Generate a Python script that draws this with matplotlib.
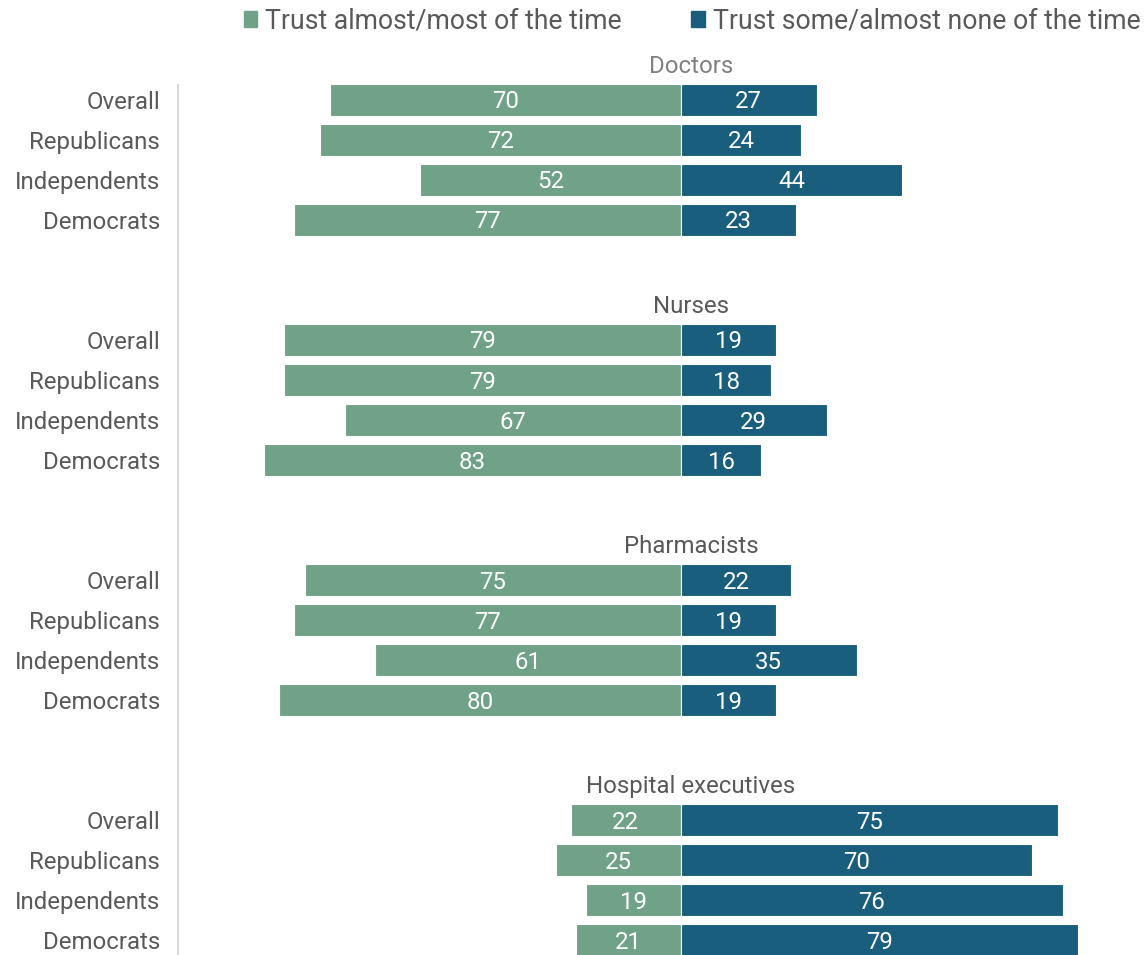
import matplotlib
matplotlib.use("Agg")
import matplotlib.pyplot as plt
from matplotlib.patches import Patch

plt.rcParams['font.family'] = ['Roboto', 'DejaVu Sans']

groups = ["Doctors", "Nurses", "Pharmacists", "Hospital executives"]
rows = ["Overall", "Republicans", "Independents", "Democrats"]
trust = [
    [70, 72, 52, 77],
    [79, 79, 67, 83],
    [75, 77, 61, 80],
    [22, 25, 19, 21],
]
distrust = [
    [27, 24, 44, 23],
    [19, 18, 29, 16],
    [22, 19, 35, 19],
    [75, 70, 76, 79],
]
legend_labels = ["Trust almost/most of the time", "Trust some/almost none of the time"]

GREEN = "#70a288"
BLUE = "#195e7c"
TXT = "#595959"

W, H = 1146, 955
fig = plt.figure(figsize=(W / 100, H / 100), dpi=100)
ax_left, ax_right, ax_top, ax_bot = 178, 1140, 85, 955
ax = fig.add_axes([ax_left / W, 1 - ax_bot / H, (ax_right - ax_left) / W, (ax_bot - ax_top) / H])

scale = 5.02
x0 = (681 - ax_left) / scale
ax.set_xlim(-x0, (ax_right - 681) / scale)
ax.set_ylim(21.375, -0.375)

fs = 17.3
yticks, ylabels = [], []
for g, name in enumerate(groups):
    base = g * 6
    for r, lab in enumerate(rows):
        y = base + r
        t = trust[g][r]
        d = distrust[g][r]
        ax.barh(y, -t, height=0.8, color=GREEN, edgecolor="white", linewidth=0.8)
        ax.barh(y, d, height=0.8, color=BLUE, edgecolor="white", linewidth=0.8)
        ax.text(-t / 2, y + 0.05, str(t), ha="center", va="center", color="white", fontsize=fs)
        ax.text(d / 2, y + 0.05, str(d), ha="center", va="center", color="white", fontsize=fs)
        yticks.append(y)
        ylabels.append(lab)
    ax.text(2, base - 0.84, name, ha="center", va="center", fontsize=fs,
            color="#808080" if g == 0 else TXT, clip_on=False)

ax.set_yticks(yticks)
ax.set_yticklabels(ylabels, fontsize=fs, color=TXT)
ax.tick_params(axis="y", length=0, pad=13)
ax.set_xticks([])
for s in ["top", "right", "bottom"]:
    ax.spines[s].set_visible(False)
ax.spines["left"].set_color("#d9d9d9")
ax.spines["left"].set_linewidth(1.5)

handles = [Patch(color=GREEN), Patch(color=BLUE)]
fig.legend(handles, legend_labels, loc="center", bbox_to_anchor=(692 / W, 1 - 21 / H),
           ncol=2, frameon=False, fontsize=19.2, handlelength=0.5, handleheight=0.5,
           handletextpad=0.3, columnspacing=2.6, labelcolor=TXT, borderaxespad=0)

fig.savefig("out.png", dpi=100)
